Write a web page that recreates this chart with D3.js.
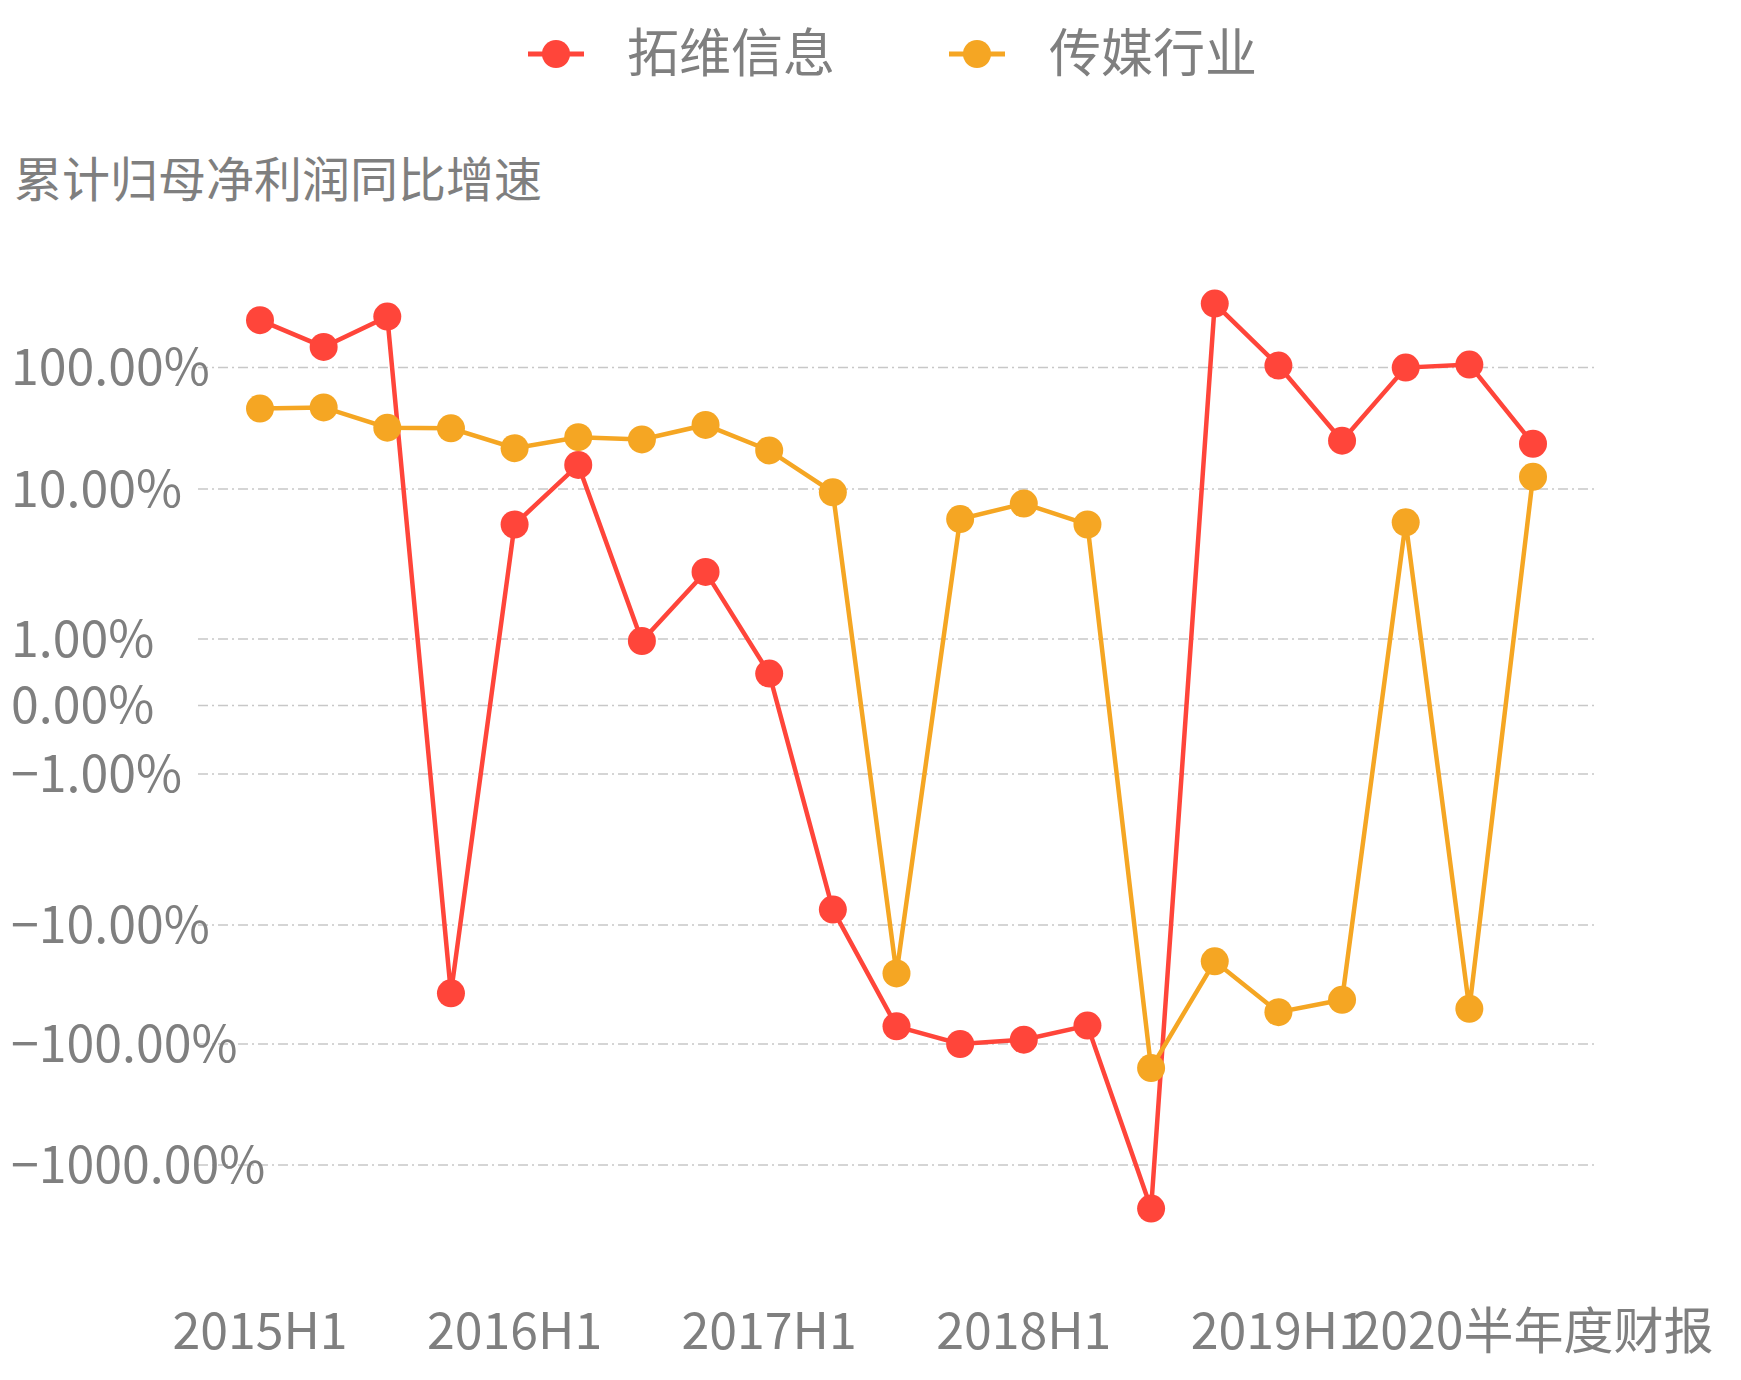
<!DOCTYPE html>
<html><head><meta charset="utf-8">
<script src="https://cdn.jsdelivr.net/npm/d3@7"></script>
<style>body{margin:0;background:#fff}text{font-family:"Noto Sans CJK SC","Noto Sans",sans-serif;fill:#7f7f7f}</style>
</head><body><svg id="c" width="1741" height="1380"></svg>
<script>
const categories = ["2015H1","2015Q3","2015年报","2016Q1","2016H1","2016Q3","2016年报","2017Q1","2017H1","2017Q3","2017年报","2018Q1","2018H1","2018Q3","2018年报","2019Q1","2019H1","2019Q3","2019年报","2020Q1","2020半年度财报"];
const tuowei = [246,148,263,-37.5,5.8,15.8,0.97,2.8,0.48,-7.9,-71,-100,-92,-70,-2290,337,104,25,100,106,23.6];
const media = [46,47,32,31.6,21.7,26.7,25.6,33.7,20.8,9.5,-25.5,6.3,8.0,5.8,-158,-20.2,-54,-42.5,6.0,-50.6,12.6];
const yTicks = [100,10,1,0,-1,-10,-100,-1000];
const xTickLabels = ["2015H1","2016H1","2017H1","2018H1","2019H1","2020半年度财报"];
const seriesNames = ["拓维信息","传媒行业"];
const colors = ["#ff453a","#f5a623"];

const svg = d3.select("#c");
function f(v){const a=Math.abs(v);return a<=1?v:Math.sign(v)*(1+Math.log10(a));}
const yLin = d3.scaleLinear().domain([-4,-3,-2,-1,0,1,2,3]).range([1165,1044,925,774,705.5,639,489,367.6]);
const y = v => yLin(f(v));
const x = d3.scalePoint().domain(categories).range([260,1533]);

// grid
yTicks.forEach(t=>{
  svg.append("line").attr("x1",198).attr("x2",1596).attr("y1",y(t)).attr("y2",y(t))
    .attr("stroke","#c8c8c8").attr("stroke-width",1.5).attr("stroke-dasharray","10,4,2,4");
  svg.append("text").attr("x",11).attr("y",y(t)).attr("dy","0.35em").attr("font-size",50)
    .text(d3.format(".2f")(t)+"%");
});
// x labels
xTickLabels.forEach((l,i)=>{
  svg.append("text").attr("x",x(categories[i*4])).attr("y",1349).attr("text-anchor","middle")
    .attr("font-size",50).text(l);
});
// title
svg.append("text").attr("x",14).attr("y",197).attr("font-size",48).text("累计归母净利润同比增速");

const line = d3.line().x((d,i)=>x(categories[i])).y(d=>y(d));
[tuowei,media].forEach((s,k)=>{
  svg.append("path").datum(s).attr("d",line).attr("fill","none").attr("stroke",colors[k]).attr("stroke-width",4.5);
  svg.selectAll(null).data(s).enter().append("circle")
    .attr("cx",(d,i)=>x(categories[i])).attr("cy",d=>y(d)).attr("r",14).attr("fill",colors[k]);
});
// legend
[[556,627],[977,1049]].forEach(([mx,tx],k)=>{
  svg.append("line").attr("x1",mx-28).attr("x2",mx+28).attr("y1",54).attr("y2",54).attr("stroke",colors[k]).attr("stroke-width",5);
  svg.append("circle").attr("cx",mx).attr("cy",54).attr("r",14).attr("fill",colors[k]);
  svg.append("text").attr("x",tx).attr("y",54).attr("dy","0.35em").attr("font-size",52).text(seriesNames[k]);
});
</script></body></html>
